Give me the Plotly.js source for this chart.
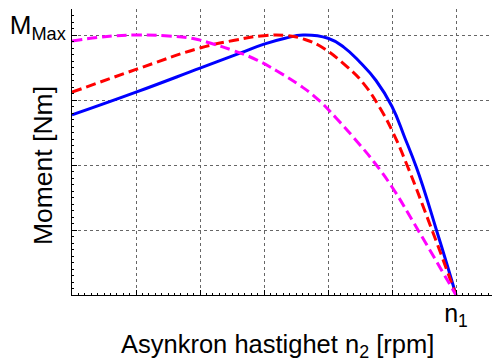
<!DOCTYPE html>
<html>
<head>
<meta charset="utf-8">
<script src="https://cdn.plot.ly/plotly-3.0.1.min.js"></script>
<style>html,body{margin:0;padding:0;background:#fff;}#chart{width:493px;height:362px;}</style>
</head>
<body>
<div id="chart"></div>
<script>
// Speed axis in grid units (n1 = 6), torque in grid units (M_Max = 4)
var blueX = [0, 1, 2, 2.625, 3, 3.33, 3.61, 4.0, 4.25, 4.5, 4.75, 5.0, 5.2, 5.375, 5.5, 5.688, 5.85, 6];
var blueY = [2.77, 3.12, 3.49, 3.72, 3.86, 3.95, 4.0, 3.95, 3.81, 3.58, 3.30, 2.90, 2.42, 1.98, 1.62, 1.02, 0.5, 0];

var redX = [0, 1, 2, 2.52, 3, 3.36, 3.61, 3.875, 4.3, 4.55, 4.81, 5.02, 5.234, 5.625, 6];
var redY = [3.12, 3.47, 3.80, 3.915, 3.99, 3.99, 3.94, 3.83, 3.51, 3.26, 2.88, 2.49, 2.0, 1.0, 0];

var magX = [0, 0.547, 1, 1.453, 1.891, 2.156, 2.516, 2.891, 3.203, 3.563, 3.828, 4.141, 4.5, 4.719, 5.0, 5.406, 6];
var magY = [3.908, 3.977, 4.0, 3.988, 3.946, 3.877, 3.762, 3.615, 3.446, 3.223, 3.023, 2.708, 2.308, 2.046, 1.662, 1.0, 0];

var xTickVals = [0, 1, 2, 3, 4, 5, 6];
var xTickText = ['', '', '', '', '', '', 'n<sub>1</sub>'];
var yTickVals = [0, 1, 2, 3, 4];
var yTickText = ['', '', '', '', 'M<sub>Max</sub>'];

var xTitle = 'Asynkron hastighet n<sub>2</sub> [rpm]';
var yTitle = 'Moment [Nm]';

var traces = [
  {x: blueX, y: blueY, mode: 'lines', line: {color: '#0000ff', width: 3, shape: 'spline', smoothing: 1.3}, hoverinfo: 'skip'},
  {x: redX, y: redY, mode: 'lines', line: {color: '#ff0000', width: 3, dash: '10px,5px', shape: 'spline', smoothing: 1.3}, hoverinfo: 'skip'},
  {x: magX, y: magY, mode: 'lines', line: {color: '#ff00ff', width: 3, dash: '10px,5px', shape: 'spline', smoothing: 1.3}, hoverinfo: 'skip'}
];

var gridStyle = {showgrid: true, gridcolor: '#666', griddash: 'dot', gridwidth: 1};

var layout = {
  width: 493, height: 362,
  margin: {l: 72, r: 1, t: 9, b: 67, pad: 0},
  paper_bgcolor: '#fff', plot_bgcolor: '#fff',
  showlegend: false,
  font: {family: '"Liberation Sans", Arial, sans-serif', color: '#000', size: 24},
  xaxis: Object.assign({
    range: [0, 6.5625], fixedrange: true,
    tickmode: 'array', tickvals: xTickVals, ticktext: xTickText,
    ticks: 'inside', ticklen: 5, tickcolor: '#000', tickwidth: 1,
    minor: {ticks: 'inside', ticklen: 2, dtick: 0.1, tickcolor: '#000', showgrid: false},
    showline: true, linecolor: '#000', linewidth: 1, mirror: false, zeroline: false,
    tickfont: {size: 25}, ticklabelstandoff: -4
  }, gridStyle),
  yaxis: Object.assign({
    range: [0, 4.4], fixedrange: true,
    tickmode: 'array', tickvals: yTickVals, ticktext: yTickText,
    ticks: 'inside', ticklen: 5, tickcolor: '#000', tickwidth: 1,
    minor: {ticks: 'inside', ticklen: 2, dtick: 0.1, tickcolor: '#000', showgrid: false},
    showline: true, linecolor: '#000', linewidth: 1, mirror: false, zeroline: false,
    tickfont: {size: 26}, ticklabelshift: -10
  }, gridStyle),
  annotations: [
    {text: xTitle, xref: 'paper', yref: 'paper', x: 0.489, y: 0, xanchor: 'center', yanchor: 'top',
     yshift: -33, showarrow: false, font: {size: 25.5}},
    {text: yTitle, xref: 'paper', yref: 'paper', x: 0, y: 0.451, xanchor: 'center', yanchor: 'middle',
     xshift: -29, textangle: -90, showarrow: false, font: {size: 26.5}}
  ]
};

Plotly.newPlot('chart', traces, layout, {staticPlot: true, displayModeBar: false});
</script>
</body>
</html>
